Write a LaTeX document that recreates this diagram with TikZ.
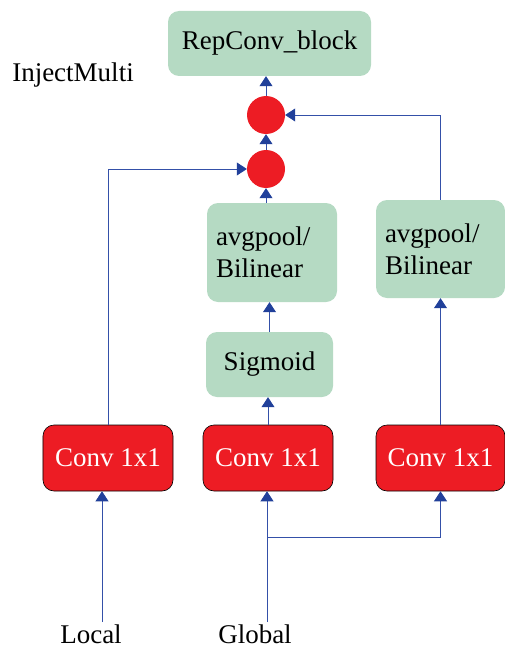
\documentclass[tikz,border=0pt]{standalone}
\usepackage{fontspec}
\setmainfont{Liberation Serif}
\usetikzlibrary{arrows.meta,shapes.geometric}
\definecolor{boxgreen}{RGB}{181,218,195}
\definecolor{convred}{RGB}{237,28,36}
\definecolor{linkblue}{RGB}{52,80,168}
\definecolor{tipblue}{RGB}{33,64,154}
\tikzset{
  greenbox/.style={fill=boxgreen, draw=none, rounded corners=11bp, inner sep=0pt,
    font=\fontsize{27bp}{32bp}\selectfont},
  convbox/.style={fill=convred, draw=black, line width=0.6bp, rounded corners=11bp,
    inner sep=0pt, text=white, minimum height=66bp,
    font=\fontsize{27bp}{32bp}\selectfont},
  dot/.style={circle, fill=convred, draw=none, minimum size=38bp, inner sep=0pt},
  label/.style={inner sep=0pt, anchor=base, font=\fontsize{27bp}{32bp}\selectfont},
  link/.style={draw=linkblue, line width=0.8bp,
    -{Triangle[width=13bp,length=10bp,color=tipblue,fill=tipblue]}},
  wire/.style={draw=linkblue, line width=0.8bp}
}
\begin{document}
\begin{tikzpicture}[x=1bp,y=-1bp]
\useasboundingbox (0,0) rectangle (505,649);

% output block and the two fusion points
\node[greenbox, minimum width=203bp, minimum height=65bp] (rep) at (269.5,43.5) {RepConv\_block};
\node[label] (title) at (73,82) {InjectMulti};
\node[dot] (dotA) at (266,115) {};
\node[dot] (dotB) at (266,169) {};

% pooling / interpolation branches
\node[greenbox, minimum width=130bp, minimum height=99bp, text width=112bp, align=left]
  (avgA) at (272,252.5) {avgpool/\\Bilinear};
\node[greenbox, minimum width=129bp, minimum height=98bp, text width=111bp, align=left]
  (avgB) at (440.5,249) {avgpool/\\Bilinear};
\node[greenbox, minimum width=127bp, minimum height=65bp] (sig) at (269.5,364.5) {Sigmoid};

% 1x1 convolutions
\node[convbox, minimum width=130bp] (conv1) at (108,458) {Conv 1x1};
\node[convbox, minimum width=130bp] (conv2) at (268,458) {Conv 1x1};
\node[convbox, minimum width=129bp] (conv3) at (440.5,458) {Conv 1x1};

% inputs
\node[label] (local) at (91,643) {Local};
\node[label] (global) at (255,643) {Global};
\coordinate (lin) at (102,622);
\coordinate (gin) at (267,622);
\coordinate (split) at (267,537);

% connectors
\draw[link] (lin) -- (lin |- conv1.south);
\draw[link] (gin) -- (gin |- conv2.south);
\draw[wire] (split) -- (split -| conv3.south);
\draw[link] (split -| conv3.south) -- (conv3.south);
\draw[link] (conv2.north) -- (conv2.north |- sig.south);
\draw[link] (conv3.north) -- (conv3.north |- avgB.south);
\draw[link] (sig.north) -- (sig.north |- avgA.south);
\draw[link] (dotB.south |- avgA.north) -- (dotB.south);
\draw[link] (conv1.north) |- (dotB.west);
\draw[link] (avgB.north) |- (dotA.east);
\draw[link] (dotB.north) -- (dotA.south);
\draw[link] (dotA.north) -- (dotA.north |- rep.south);
\end{tikzpicture}
\end{document}
